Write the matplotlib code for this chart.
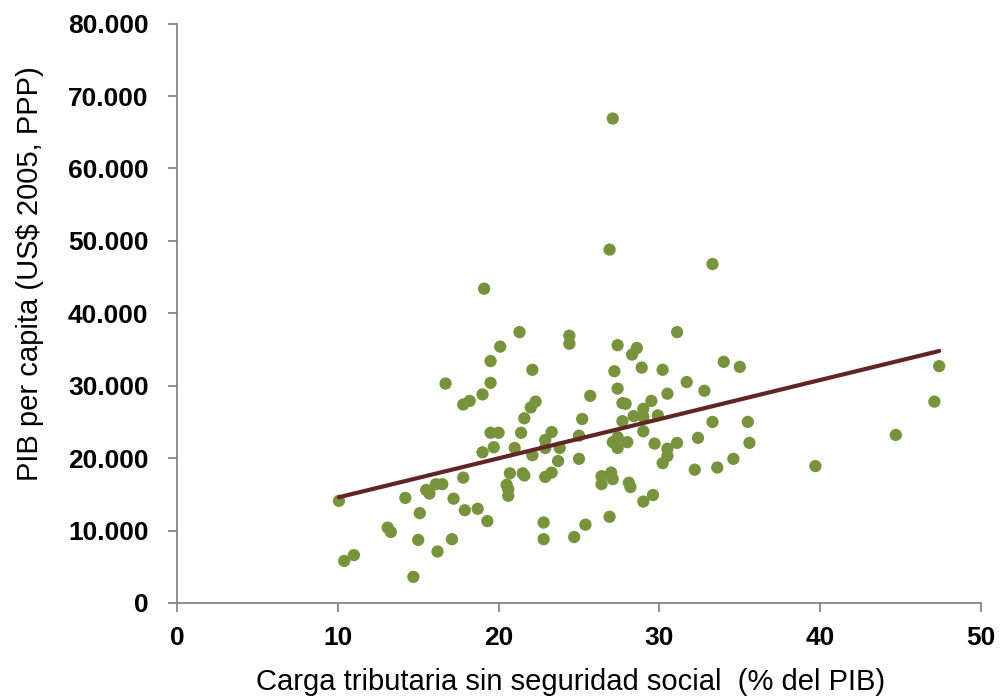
import numpy as np
import matplotlib
matplotlib.use("Agg")
import matplotlib.pyplot as plt
from matplotlib.ticker import FuncFormatter

# carga tributaria (% PIB) y PIB per capita (miles US$ 2005 PPP)
carga = [10.07, 10.4, 11.0, 13.1, 13.3, 14.2, 14.7, 15.0, 15.1, 15.5,
         15.7, 16.1, 16.2, 16.5, 16.7, 17.1, 17.2, 17.8, 17.8, 17.9,
         18.2, 18.7, 19.0, 19.0, 19.1, 19.3, 19.5, 19.5, 19.5, 19.7,
         20.0, 20.1, 20.5, 20.6, 20.6, 20.7, 21.0, 21.3, 21.4, 21.5,
         21.6, 21.6, 22.0, 22.1, 22.1, 22.3, 22.8, 22.8, 22.9, 22.9,
         22.9, 23.3, 23.3, 23.7, 23.8, 24.4, 24.4, 24.7, 25.0, 25.0,
         25.2, 25.4, 25.7, 26.4, 26.4, 26.9, 26.9, 27.0, 27.1, 27.1,
         27.1, 27.2, 27.4, 27.4, 27.4, 27.4, 27.7, 27.7, 27.9, 28.0,
         28.1, 28.2, 28.3, 28.4, 28.6, 28.9, 29.0, 29.0, 29.0, 29.0,
         29.5, 29.6, 29.7, 29.9, 30.2, 30.2, 30.5, 30.5, 30.5, 31.1,
         31.1, 31.7, 32.2, 32.4, 32.8, 33.3, 33.3, 33.6, 34.0, 34.6,
         35.0, 35.5, 35.6, 39.7, 44.7, 47.1, 47.4]
pib = [14.1, 5.8, 6.6, 10.4, 9.8, 14.5, 3.6, 8.7, 12.4, 15.6,
       15.1, 16.4, 7.1, 16.4, 30.3, 8.8, 14.4, 17.3, 27.4, 12.8,
       27.9, 13.0, 28.8, 20.8, 43.4, 11.3, 33.4, 30.4, 23.5, 21.5,
       23.5, 35.4, 16.3, 15.7, 14.8, 17.9, 21.4, 37.4, 23.5, 17.9,
       17.6, 25.5, 27.0, 32.2, 20.4, 27.8, 11.1, 8.8, 22.5, 21.4,
       17.4, 23.6, 18.0, 19.6, 21.4, 36.9, 35.8, 9.1, 23.1, 19.9,
       25.4, 10.8, 28.6, 17.5, 16.4, 48.8, 11.9, 18.0, 66.9, 17.1,
       22.2, 32.0, 35.6, 29.6, 22.9, 21.4, 27.6, 25.1, 27.5, 22.2,
       16.6, 16.0, 34.3, 25.8, 35.2, 32.5, 26.8, 25.7, 23.7, 14.0,
       27.9, 14.9, 22.0, 25.9, 32.2, 19.3, 28.9, 21.3, 20.3, 37.4,
       22.1, 30.5, 18.4, 22.8, 29.3, 46.8, 25.0, 18.7, 33.3, 19.9,
       32.6, 25.0, 22.1, 18.9, 23.2, 27.8, 32.7]

# linea de tendencia
tend_pend = 541.0
tend_inter = 9150.0

x = np.array(carga)
y = np.array(pib) * 1000

plt.rcParams['font.family'] = ['Liberation Sans', 'DejaVu Sans']

fig = plt.figure(figsize=(10, 6.97), dpi=100)
ax = fig.add_axes([0.177, 0.135, 0.804, 0.831])

ax.scatter(x, y, s=78, color='#77933C', edgecolors='none', zorder=2)

xt = np.array([x.min(), x.max()])
ax.plot(xt, tend_inter + tend_pend * xt, color='#632523', lw=3, solid_capstyle='round', zorder=3)

ax.set_xlim(0, 50)
ax.set_ylim(0, 80000)
ax.set_xticks(np.arange(0, 51, 10))
ax.set_yticks(np.arange(0, 80001, 10000))
ax.yaxis.set_major_formatter(FuncFormatter(lambda v, p: f"{int(v):,}".replace(",", ".")))

for s in ['top', 'right']:
    ax.spines[s].set_visible(False)
for s in ['left', 'bottom']:
    ax.spines[s].set_color('#868686')
    ax.spines[s].set_linewidth(1.3)
ax.tick_params(colors='#868686', width=1.3, length=6.5, labelcolor='black', labelsize=19)
ax.tick_params(axis='x', direction='out', pad=10)
ax.tick_params(axis='y', pad=14)
for lab in ax.get_xticklabels() + ax.get_yticklabels():
    lab.set_fontweight('bold')

ax.set_xlabel('Carga tributaria sin seguridad social  (% del PIB)', fontsize=21)
ax.set_ylabel('PIB per capita (US$ 2005, PPP)', fontsize=21)
ax.xaxis.set_label_coords(0.49, -0.113)
ax.yaxis.set_label_coords(-0.166, 0.568)

fig.savefig('out.png', dpi=100)
